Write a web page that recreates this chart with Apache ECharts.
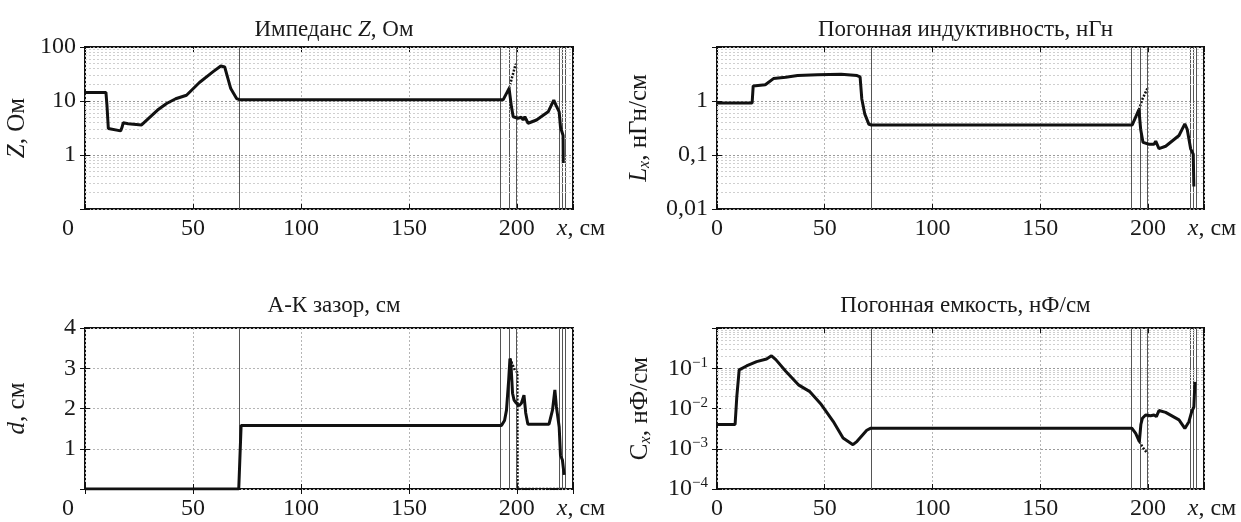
<!DOCTYPE html>
<html>
<head>
<meta charset="utf-8">
<script src="https://cdn.jsdelivr.net/npm/echarts@6/dist/echarts.min.js"></script>
<style>
html, body { margin: 0; padding: 0; background: #fff; }
#chart { width: 1241px; height: 522px; }
</style>
</head>
<body>
<div id="chart"></div>
<script>
const FONT = '"Liberation Serif", "DejaVu Serif", serif';
const INK = '#1a1a1a';

// общая ось x, см
const X_MAX = 226;
const xTicks = [0, 50, 100, 150, 200];
// вертикальные границы участков линии
const sectionLines = [71.5, 192.4, 196.6, 199.7, 219.5, 221.0, 222.5];

// Импеданс Z, Ом
const zX = [0, 9.7, 10.2, 10.8, 11.5, 16.5, 17.2, 17.7, 20, 26.2, 33.6, 37.8, 42, 47, 53, 59.2, 62.9, 64.7, 66.2, 67.5, 70.2, 71.5,
  193.7, 196.4, 197.5, 198.3, 200.5, 202.1, 202.9, 203.7, 205.2, 209.1, 214.5, 217.1, 218.1, 219.6, 220.2, 221.4, 221.5];
const zY = [14.4, 14.4, 8, 3.1, 2.85, 2.8, 3.3, 3.96, 3.8, 3.6, 6.8, 9.0, 11, 12.8, 22, 34.6, 44.6, 42.6, 26, 17, 11.1, 10.6,
  10.6, 17.1, 7.8, 5.1, 4.8, 5.0, 4.45, 5.1, 3.87, 4.45, 6.3, 10.4, 8.4, 6.3, 3.3, 2.3, 0.71];
const zBranchX = [196.4, 197.5, 198.5, 199.5];
const zBranchY = [17.1, 25, 35, 49.4];
const zTickVals = [0.1, 1, 10, 100];
const zTickText = ['', '1', '10', '100'];

// Погонная индуктивность, нГн/см
const lX = [0, 16.3, 16.8, 17.2, 22.4, 26.2, 31.9, 37.4, 46.6, 57.6, 65, 66.4, 67.2, 68.6, 70.5, 71.6,
  192.7, 195.8, 196.6, 197.7, 200.5, 202.8, 203.6, 205.1, 208.2, 214.4, 217.1, 218.2, 219.8, 221, 221.3];
const lY = [0.92, 0.92, 1.9, 2.0, 2.0, 2.6, 2.75, 2.96, 3.05, 3.14, 2.96, 2.8, 1.09, 0.57, 0.37, 0.36,
  0.36, 0.69, 0.30, 0.171, 0.158, 0.158, 0.18, 0.131, 0.145, 0.23, 0.377, 0.3, 0.13, 0.104, 0.026];
const lBranchX = [195.8, 197.5, 199.7];
const lBranchY = [0.69, 1.1, 1.7];
const lTickVals = [0.01, 0.1, 1, 10];
const lTickText = ['0,01', '0,1', '1', ''];

// А-К зазор, см
const dX = [0, 71.2, 72.3, 192.9, 194.3, 195.2, 196.2, 196.8, 197.2, 198, 198.7, 199.8, 201, 202.1, 203.3, 204.1, 205.1,
  214.9, 216.5, 217.6, 218.3, 219.6, 220.2, 221.1, 221.9];
const dY = [0, 0, 1.58, 1.58, 1.7, 1.96, 2.7, 3.24, 3.16, 2.38, 2.21, 2.13, 2.07, 2.13, 2.33, 1.89, 1.61,
  1.61, 1.96, 2.46, 2.05, 1.54, 0.84, 0.72, 0.35];
const dBranchX = [196.8, 199.1, 200.2, 200.3, 222.2];
const dBranchY = [3.24, 2.95, 2.9, 0, 0];
const dTickVals = [0, 1, 2, 3, 4];
const dTickText = ['', '1', '2', '3', '4'];

// Погонная емкость, нФ/см
const cX = [0, 8.4, 9.2, 10.3, 13.7, 18.4, 23, 25.3, 27.3, 31.9, 38, 42.9, 48.4, 53.9, 58.5, 63.1, 65, 69.5, 71.4,
  192.5, 194.3, 196, 196.7, 197.4, 198.9, 201.2, 202.8, 203.9, 205.1, 208.2, 214.4, 217.1, 219, 220.2, 221.3, 221.8];
const cY = [4.0e-3, 4.0e-3, 0.02, 0.091, 0.114, 0.146, 0.17, 0.204, 0.164, 0.084, 0.038, 0.0267, 0.0125, 4.8e-3, 1.85e-3, 1.26e-3, 1.53e-3, 2.88e-3, 3.25e-3,
  3.25e-3, 2.4e-3, 1.5e-3, 4.0e-3, 5.7e-3, 6.9e-3, 6.6e-3, 6.9e-3, 6.3e-3, 8.9e-3, 8e-3, 5.2e-3, 3.2e-3, 4.7e-3, 8e-3, 0.011, 0.046];
const cBranchX = [196, 197.5, 199.7];
const cBranchY = [1.5e-3, 1.1e-3, 7.7e-4];
const cTickVals = [1e-4, 1e-3, 1e-2, 1e-1, 1];
const cTickText = ['{b|10}{s|−4}', '{b|10}{s|−3}', '{b|10}{s|−2}', '{b|10}{s|−1}', ''];

const titles = ['{n|Импеданс }{i|Z}{n|, Ом}', '{n|Погонная индуктивность, нГн}', '{n|А-К зазор, см}', '{n|Погонная емкость, нФ/см}'];

const zip = (xs, ys) => xs.map((x, i) => [x, ys[i]]);

function minorLines(minV, maxV) {
  const out = [];
  for (let p = Math.log10(minV); p < Math.log10(maxV) - 1e-9; p++) {
    for (let m = 2; m <= 9; m++) out.push(m * Math.pow(10, p));
  }
  return out;
}

function tickFormatter(vals, texts) {
  return v => {
    for (let k = 0; k < vals.length; k++) {
      const a = vals[k] > 0 ? Math.log10(vals[k]) : vals[k];
      const b = vals[k] > 0 ? Math.log10(v) : v;
      if (Math.abs(a - b) < 1e-6) return texts[k];
    }
    return '';
  };
}

const GRIDS = [
  { left: 85, top: 47, width: 488, height: 162 },
  { left: 717, top: 47, width: 487, height: 162 },
  { left: 85, top: 328, width: 488, height: 161 },
  { left: 717, top: 328, width: 487, height: 161 }
];

const PANELS = [
  { main: zip(zX, zY), branch: zip(zBranchX, zBranchY), log: true, min: 0.1, max: 100, vals: zTickVals, texts: zTickText,
    name: '{i|Z}{n|, Ом}', nameGap: 54, shiftZero: true },
  { main: zip(lX, lY), branch: zip(lBranchX, lBranchY), log: true, min: 0.01, max: 10, vals: lTickVals, texts: lTickText,
    name: '{i|L}{sub|x}{n|, нГн/см}', nameGap: 64, shiftZero: false },
  { main: zip(dX, dY), branch: zip(dBranchX, dBranchY), log: false, min: 0, max: 4, vals: dTickVals, texts: dTickText,
    name: '{i|d}{n|, см}', nameGap: 54, shiftZero: true },
  { main: zip(cX, cY), branch: zip(cBranchX, cBranchY), log: true, min: 1e-4, max: 1, vals: cTickVals, texts: cTickText,
    name: '{n|C}{sub|x}{n|, нФ/см}', nameGap: 63, shiftZero: false }
];

const NAME_SIZE = 25;
const TICK_SIZE = 24;

const nameRich = {
  i: { fontFamily: FONT, fontSize: NAME_SIZE, fontStyle: 'italic', color: INK, lineHeight: 28 },
  n: { fontFamily: FONT, fontSize: NAME_SIZE, color: INK, lineHeight: 28 },
  sub: { fontFamily: FONT, fontSize: 16, fontStyle: 'italic', color: INK, verticalAlign: 'bottom', lineHeight: 15 }
};
const xNameRich = {
  i: { fontFamily: FONT, fontSize: TICK_SIZE, fontStyle: 'italic', color: INK },
  n: { fontFamily: FONT, fontSize: TICK_SIZE, color: INK }
};
const labelRich = {
  b: { fontFamily: FONT, fontSize: TICK_SIZE, color: INK, lineHeight: 26 },
  s: { fontFamily: FONT, fontSize: 15, color: INK, verticalAlign: 'top', lineHeight: 14 },
  z: { fontFamily: FONT, fontSize: TICK_SIZE, color: INK, padding: [0, 34, 0, 0] }
};
const titleRich = {
  n: { fontFamily: FONT, fontSize: 23, color: INK },
  i: { fontFamily: FONT, fontSize: 23, fontStyle: 'italic', color: INK }
};

const option = {
  animation: false,
  backgroundColor: '#fff',
  title: titles.map((t, i) => ({
    text: t,
    left: GRIDS[i].left + GRIDS[i].width / 2,
    top: i < 2 ? 13 : 289,
    textAlign: 'center',
    textStyle: { fontFamily: FONT, fontSize: 23, fontWeight: 'normal', color: INK, rich: titleRich }
  })),
  grid: GRIDS.map(g => Object.assign({ show: true, borderColor: '#111', borderWidth: 2, backgroundColor: 'transparent' }, g)),
  xAxis: [],
  yAxis: [],
  series: []
};

PANELS.forEach((p, i) => {
  option.xAxis.push({
    gridIndex: i, type: 'value', min: 0, max: X_MAX, interval: 50,
    axisLine: { show: false },
    axisTick: { inside: true, length: 5, lineStyle: { color: '#111' } },
    axisLabel: {
      margin: 8, fontFamily: FONT, fontSize: TICK_SIZE, color: INK, rich: labelRich,
      formatter: v => (v === 0 && p.shiftZero) ? '{z|0}' : (xTicks.indexOf(v) >= 0 ? String(v) : '')
    },
    splitLine: { show: true, lineStyle: { color: '#b5b5b5', type: [2, 2], width: 1 } },
    name: '{i|x}{n|, см}', nameLocation: 'end', nameGap: 8,
    nameTextStyle: { align: 'center', verticalAlign: 'top', padding: [8, 0, 0, 0], rich: xNameRich }
  });
  option.xAxis.push({
    gridIndex: i, type: 'value', min: 0, max: X_MAX, interval: 50, position: 'top',
    axisLine: { show: false }, axisLabel: { show: false }, splitLine: { show: false },
    axisTick: { inside: true, length: 5, lineStyle: { color: '#111' } }
  });
  const yBase = p.log ? { type: 'log', logBase: 10 } : { type: 'value', interval: 1 };
  option.yAxis.push(Object.assign({
    gridIndex: i, min: p.min, max: p.max,
    axisLine: { show: false },
    axisTick: { inside: true, length: 5, lineStyle: { color: '#111' } },
    axisLabel: { margin: 9, fontFamily: FONT, fontSize: TICK_SIZE, color: INK, rich: labelRich, formatter: tickFormatter(p.vals, p.texts) },
    splitLine: { show: true, lineStyle: { color: p.log ? '#9a9a9a' : '#b5b5b5', type: [2, 2], width: 1 } },
    name: p.name, nameLocation: 'middle', nameGap: p.nameGap,
    nameTextStyle: { rich: nameRich }
  }, yBase));
  option.yAxis.push(Object.assign({
    gridIndex: i, min: p.min, max: p.max, position: 'right',
    axisLine: { show: false }, axisLabel: { show: false }, splitLine: { show: false },
    axisTick: { inside: true, length: 5, lineStyle: { color: '#111' } }
  }, yBase));

  const gridLines = sectionLines.map(x => ({ xAxis: x, lineStyle: { color: '#555', width: 1, type: 'solid' } }));
  if (p.log) {
    minorLines(p.min, p.max).forEach(v => gridLines.push({ yAxis: v, lineStyle: { color: '#cfcfcf', width: 1, type: [2, 2] } }));
  }

  option.series.push({
    type: 'line', xAxisIndex: 2 * i, yAxisIndex: 2 * i, data: p.branch, showSymbol: false, z: 3,
    lineStyle: { color: '#111', width: 2.5, type: [2, 1.5] },
    markLine: { silent: true, symbol: 'none', label: { show: false }, data: gridLines }
  });
  option.series.push({
    type: 'line', xAxisIndex: 2 * i, yAxisIndex: 2 * i, data: p.main, showSymbol: false, z: 5,
    lineStyle: { color: '#111', width: 3 }
  });
});

const chart = echarts.init(document.getElementById('chart'), null, { renderer: 'canvas' });
chart.setOption(option);
</script>
</body>
</html>
